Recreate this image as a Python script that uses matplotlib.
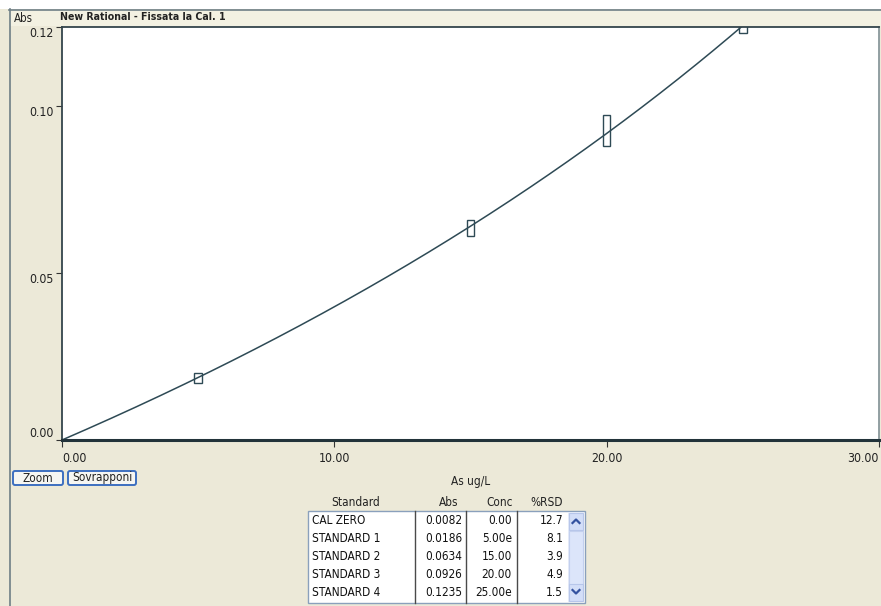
import numpy as np
import matplotlib
matplotlib.use("Agg")
import matplotlib.pyplot as plt
from matplotlib.patches import Rectangle, FancyBboxPatch
from matplotlib.lines import Line2D
from matplotlib.transforms import Affine2D

plt.rcParams['font.family'] = ['DejaVu Sans']
plt.rcParams['font.stretch'] = 'condensed'

# calibration standards
standards = ['CAL ZERO', 'STANDARD 1', 'STANDARD 2', 'STANDARD 3', 'STANDARD 4']
abs_vals = [0.0082, 0.0186, 0.0634, 0.0926, 0.1235]
conc_vals = [0.00, 5.00, 15.00, 20.00, 25.00]
conc_flags = ['', 'e', '', '', 'e']
rsd_vals = [12.7, 8.1, 3.9, 4.9, 1.5]

title = 'New Rational - Fissata la Cal. 1'
x_ticks = [0, 10, 20, 30]
y_ticks = [0.0, 0.05, 0.10]

W, H = 881, 606
ink = '#2E4A55'

fig = plt.figure(figsize=(W / 100, H / 100), dpi=100)
fig.patch.set_facecolor('#ECE9D8')
# pixel coords measured from the top-left corner of the window
pix = Affine2D().scale(1 / W, -1 / H).translate(0, 1) + fig.transFigure


def frect(x, y, w, h, **kw):
    r = Rectangle((x, y), w, h, transform=pix, **kw)
    fig.patches.append(r)
    return r


def fline(xs, ys, **kw):
    fig.lines.append(Line2D(xs, ys, transform=pix, **kw))


# window chrome
frect(0, 0, W, 9, facecolor='white', edgecolor='none')
frect(10, 10, W - 10, 16, facecolor='#F3F1E2', edgecolor='none')
fline([9, W], [9.5, 9.5], color='#6F7F86', lw=1.2)
fline([9.5, 9.5], [9, H], color='#6F7F86', lw=1.2)
fig.text(14, 18, 'Abs', transform=pix, fontsize=8.3, va='center', ha='left', color='#222')
fig.text(60, 17, title, transform=pix, fontsize=7.6, fontweight='bold',
         va='center', ha='left', color='#222')

# ---- calibration plot ----
ax = fig.add_axes([62 / W, 1 - 440 / H, (879 - 62) / W, (440 - 27) / H])
ax.set_facecolor('white')

x = np.array(conc_vals[1:])
y = np.array(abs_vals[1:])
rsd = np.array(rsd_vals[1:])

# rational fit through the origin: y = b*x / (1 + c*x)
A = np.column_stack([x, -x * y])
(b, c), *_ = np.linalg.lstsq(A, y, rcond=None)
xs = np.linspace(0, 30, 400)
ax.plot(xs, b * xs / (1 + c * xs), color=ink, lw=1.1)

# replicate spread boxes (+/- %RSD)
for xi, yi, ri in zip(x, y, rsd):
    half = yi * ri / 100
    ax.add_patch(Rectangle((xi - 0.14, yi - half), 0.28, 2 * half,
                           facecolor='none', edgecolor=ink, lw=1.0))

ax.set_xlim(0, 30)
ax.set_ylim(0, max(abs_vals))
ax.set_xticks(x_ticks, [f'{t:.2f}' for t in x_ticks])
yt = y_ticks + [max(abs_vals)]
ax.set_yticks(yt, [f'{t:.2f}' for t in yt])
ax.tick_params(axis='y', length=4, pad=2, labelsize=8.8, color='#333', labelcolor='#222')
ax.tick_params(axis='x', length=5, pad=4, labelsize=8.8, color='#333', labelcolor='#222')
for lab, va in zip(ax.get_yticklabels(), ['bottom', 'top', 'top', 'top']):
    lab.set_va(va)
for lab, ha in zip(ax.get_xticklabels(), ['left', 'center', 'center', 'right']):
    lab.set_ha(ha)

for side in ['left', 'top']:
    ax.spines[side].set_color('#34454C')
    ax.spines[side].set_linewidth(1.3)
ax.spines['bottom'].set_color('#22333A')
ax.spines['bottom'].set_linewidth(2.2)
ax.spines['right'].set_color('#8A989C')
ax.spines['right'].set_linewidth(1.3)
ax.set_xlabel('As ug/L', fontsize=8.5, labelpad=7, color='#222')

# ---- buttons ----
for bx, bw, label in [(13, 50, 'Zoom'), (68, 68, 'Sovrapponi')]:
    fig.patches.append(FancyBboxPatch((bx, 471), bw, 14, transform=pix,
                                      boxstyle='round,pad=0,rounding_size=2',
                                      facecolor='#F6F6F2', edgecolor='#3D6FC0', lw=1.4))
    fig.text(bx + bw / 2, 478, label, transform=pix, fontsize=8.5,
             ha='center', va='center', color='#222')

# ---- standards table ----
tl, tr, tt, tb = 308, 585, 511, 603
cols = [415, 466, 517, 568]
frect(tl, tt, tr - tl, tb - tt, facecolor='white', edgecolor='#8AA0BC', lw=1.0)
for cx in cols[:3]:
    fline([cx, cx], [tt, tb], color='#4A4A4A', lw=1.0)

# scrollbar
frect(568, tt + 1, 16, tb - tt - 2, facecolor='#E4EAF8', edgecolor='none')
frect(569, tt + 2, 14, 17, facecolor='#D3DEF8', edgecolor='#B7C6EA', lw=0.8)
frect(569, tt + 20, 14, 62, facecolor='#DCE5FA', edgecolor='#C3D0EE', lw=0.8)
frect(569, tb - 19, 14, 17, facecolor='#D3DEF8', edgecolor='#B7C6EA', lw=0.8)
fline([572.5, 576, 579.5], [523, 519.5, 523], color='#3452A0', lw=1.6)
fline([572.5, 576, 579.5], [590, 593.5, 590], color='#3452A0', lw=1.6)

hy = 502
fig.text(356, hy, 'Standard', transform=pix, fontsize=8.5, ha='center', va='center', color='#222')
fig.text(458, hy, 'Abs', transform=pix, fontsize=8.5, ha='right', va='center', color='#222')
fig.text(513, hy, 'Conc', transform=pix, fontsize=8.5, ha='right', va='center', color='#222')
fig.text(563, hy, '%RSD', transform=pix, fontsize=8.5, ha='right', va='center', color='#222')

for i, (name, a, cv, fl, r) in enumerate(zip(standards, abs_vals, conc_vals, conc_flags, rsd_vals)):
    ry = 521 + i * 17.8
    fig.text(312, ry, name, transform=pix, fontsize=8.5, ha='left', va='center', color='#111')
    fig.text(462, ry, f'{a:.4f}', transform=pix, fontsize=8.5, ha='right', va='center', color='#111')
    fig.text(512, ry, f'{cv:.2f}{fl}', transform=pix, fontsize=8.5, ha='right', va='center', color='#111')
    fig.text(563, ry, f'{r:.1f}', transform=pix, fontsize=8.5, ha='right', va='center', color='#111')

fig.savefig('out.png', dpi=100, facecolor=fig.get_facecolor())
